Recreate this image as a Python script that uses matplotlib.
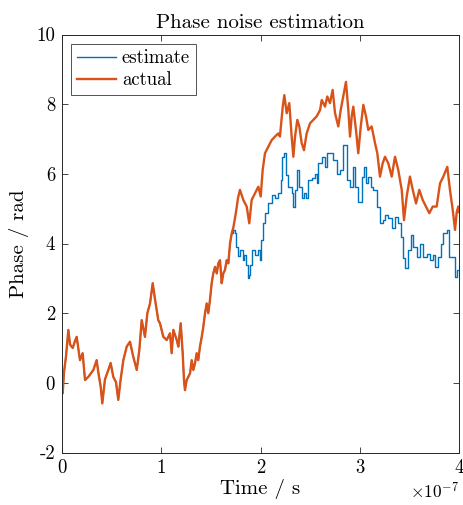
import numpy as np
import matplotlib.pyplot as plt

plt.rcParams['font.family'] = 'serif'
plt.rcParams['font.serif'] = ['cmr10', 'DejaVu Serif']
plt.rcParams['mathtext.fontset'] = 'cm'
plt.rcParams['axes.unicode_minus'] = False

# time axis in units of 1e-7 s
t_actual = [0.0, 0.007, 0.02, 0.04, 0.064, 0.081, 0.108, 0.131, 0.148, 0.164,
            0.181, 0.208, 0.232, 0.265, 0.316, 0.349, 0.366, 0.39, 0.406, 0.433,
            0.467, 0.49, 0.517, 0.544, 0.567, 0.591, 0.618, 0.652, 0.685, 0.718,
            0.753, 0.779, 0.803, 0.836, 0.86, 0.887, 0.914, 0.937, 0.97, 0.987,
            1.021, 1.055, 1.088, 1.105, 1.122, 1.156, 1.172, 1.196, 1.216, 1.229,
            1.239, 1.256, 1.29, 1.307, 1.323, 1.34, 1.357, 1.373, 1.39, 1.408,
            1.424, 1.441, 1.458, 1.474, 1.491, 1.508, 1.524, 1.542, 1.559, 1.575,
            1.592, 1.609, 1.625, 1.642, 1.659, 1.676, 1.693, 1.71, 1.726, 1.753,
            1.773, 1.793, 1.827, 1.861, 1.887, 1.911, 1.945, 1.978, 2.002, 2.022,
            2.045, 2.079, 2.113, 2.146, 2.179, 2.196, 2.224, 2.24, 2.264, 2.29,
            2.314, 2.331, 2.348, 2.371, 2.391, 2.415, 2.438, 2.465, 2.499, 2.532,
            2.566, 2.6, 2.617, 2.65, 2.673, 2.7, 2.727, 2.751, 2.784, 2.808,
            2.834, 2.861, 2.885, 2.902, 2.919, 2.935, 2.962, 2.985, 3.01, 3.036,
            3.063, 3.086, 3.12, 3.154, 3.177, 3.204, 3.231, 3.254, 3.288, 3.322,
            3.355, 3.388, 3.423, 3.446, 3.473, 3.506, 3.534, 3.567, 3.6, 3.634,
            3.668, 3.701, 3.735, 3.775, 3.809, 3.842, 3.882, 3.909, 3.937, 3.96,
            3.977, 3.993, 4.0]
phase_actual = [-0.1, -0.3, 0.3, 0.75, 1.52, 1.1, 1.0, 1.2, 1.32, 1.0,
                0.65, 0.85, 0.08, 0.17, 0.37, 0.65, 0.3, -0.11, -0.59, 0.1,
                0.37, 0.57, 0.17, 0.02, -0.49, 0.1, 0.65, 1.04, 1.18, 0.75,
                0.37, 0.94, 1.8, 1.32, 2.0, 2.28, 2.86, 2.4, 1.8, 1.71,
                1.32, 1.23, 1.42, 0.85, 1.52, 1.23, 1.04, 1.71, 0.85, 0.08,
                -0.21, 0.08, 0.27, 0.65, 0.37, 0.56, 0.85, 0.65, 1.04, 1.32,
                1.61, 2.0, 2.28, 2.0, 2.38, 2.86, 3.14, 3.33, 3.14, 3.43,
                3.52, 2.86, 3.14, 3.24, 3.52, 3.43, 4.0, 4.29, 4.45, 4.9,
                5.3, 5.54, 5.25, 5.06, 4.58, 5.25, 5.44, 5.63, 5.35, 6.11,
                6.59, 6.78, 6.97, 7.07, 7.16, 7.07, 7.93, 8.26, 7.74, 8.03,
                7.07, 6.49, 7.07, 7.55, 7.36, 6.88, 6.68, 7.16, 7.45, 7.55,
                7.65, 7.83, 8.12, 7.93, 8.22, 8.03, 8.41, 7.74, 7.36, 7.83,
                8.22, 8.64, 7.83, 7.07, 7.65, 7.93, 7.26, 6.59, 7.36, 7.98,
                7.65, 7.26, 7.36, 6.88, 6.59, 5.92, 6.3, 6.49, 6.3, 5.92,
                6.49, 6.11, 5.54, 4.67, 5.35, 5.92, 5.54, 5.15, 5.54, 5.25,
                5.06, 4.87, 5.06, 5.06, 5.73, 5.92, 6.2, 5.54, 4.96, 4.39,
                4.9, 5.06, 4.9]

# estimate tracks the actual phase until ~1.7e-7 s, then lags behind (held steps)
t_est_tail = [1.723, 1.743, 1.758, 1.773, 1.793, 1.82, 1.834, 1.854, 1.877, 1.889,
              1.899, 1.914, 1.945, 1.97, 1.995, 2.005, 2.022, 2.045, 2.079, 2.113,
              2.146, 2.179, 2.203, 2.22, 2.24, 2.257, 2.28, 2.314, 2.331, 2.348,
              2.371, 2.391, 2.415, 2.438, 2.458, 2.482, 2.516, 2.549, 2.566, 2.583,
              2.617, 2.65, 2.673, 2.708, 2.735, 2.768, 2.801, 2.834, 2.861, 2.874,
              2.902, 2.929, 2.952, 2.985, 3.02, 3.043, 3.063, 3.086, 3.11, 3.137,
              3.171, 3.204, 3.231, 3.254, 3.288, 3.322, 3.355, 3.388, 3.412, 3.433,
              3.456, 3.489, 3.513, 3.54, 3.574, 3.607, 3.64, 3.674, 3.708, 3.735,
              3.758, 3.791, 3.815, 3.842, 3.876, 3.902, 3.937, 3.96, 3.977, 4.0]
phase_est_tail = [4.4, 4.3, 3.9, 3.65, 3.81, 3.52, 3.67, 3.38, 3.0, 3.1,
                  3.38, 3.81, 3.67, 3.81, 3.52, 4.1, 4.58, 4.87, 5.15, 5.39,
                  5.3, 5.44, 5.82, 6.49, 6.6, 5.97, 5.63, 5.44, 5.06, 5.54,
                  6.1, 5.63, 5.3, 5.44, 5.3, 5.82, 5.87, 6.0, 5.73, 6.3,
                  6.49, 6.2, 6.59, 6.59, 6.39, 6.0, 6.11, 6.83, 6.83, 5.82,
                  5.63, 6.2, 5.63, 5.2, 5.92, 6.2, 5.73, 5.92, 5.63, 5.54,
                  5.06, 4.58, 4.67, 4.82, 4.72, 4.44, 4.77, 4.58, 4.19, 3.57,
                  3.29, 3.81, 4.25, 3.9, 3.62, 4.0, 3.62, 3.71, 3.52, 3.67,
                  3.33, 3.62, 4.0, 4.3, 4.39, 3.62, 3.62, 3.05, 3.24, 3.24]

n_shared = sum(1 for v in t_actual if v < 1.72)

blue = '#0072BD'
orange = '#D95319'
dark = '#262626'

fig = plt.figure(figsize=(4.63, 5.05), dpi=100)
ax = fig.add_axes([62 / 463, 1 - 452.5 / 505, 397 / 463, 418 / 505])

# estimate: follows the actual curve, then the held steps
ax.plot(t_actual[:n_shared + 1], phase_actual[:n_shared + 1], color=blue, lw=1.0,
        label='estimate')
ax.plot([t_actual[n_shared - 1]] + t_est_tail, [phase_actual[n_shared - 1]] + phase_est_tail,
        color=blue, lw=1.0, drawstyle='steps-post')
ax.plot(t_actual, phase_actual, color=orange, lw=1.7, label='actual')

ax.set_xlim(0, 4)
ax.set_ylim(-2, 10)
ax.set_xticks([0, 1, 2, 3, 4])
ax.set_yticks([-2, 0, 2, 4, 6, 8, 10])
ax.tick_params(direction='in', top=True, right=True, length=4, width=0.6,
               colors=dark, labelsize=13.5, labelcolor='black', pad=5)
for s in ax.spines.values():
    s.set_color(dark)
    s.set_linewidth(0.7)

ax.set_title('Phase noise estimation', fontsize=15, pad=5)
ax.set_xlabel('Time / s', fontsize=15, labelpad=1)
ax.set_ylabel('Phase / rad', fontsize=15, labelpad=5)
ax.text(1.0, -0.093, r'$\times10^{-7}$', transform=ax.transAxes,
        ha='right', va='center', fontsize=12.5)

leg = ax.legend(loc='upper left', fontsize=13.5, frameon=True, fancybox=False,
                edgecolor=dark, handlelength=2.1, handletextpad=0.3,
                borderpad=0.3, labelspacing=0.2, borderaxespad=0.5)
leg.get_frame().set_linewidth(0.7)

fig.savefig('out.png', dpi=100)
